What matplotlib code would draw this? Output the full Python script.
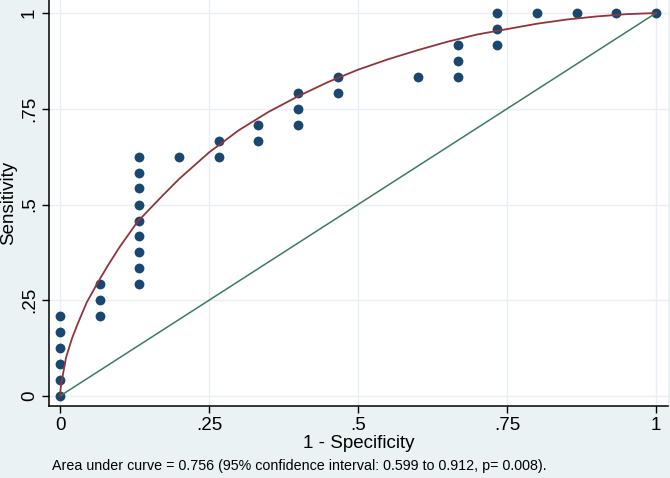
import numpy as np
import matplotlib
matplotlib.use("Agg")
import matplotlib.pyplot as plt

plt.rcParams['font.family'] = ['Liberation Sans', 'DejaVu Sans']

# empirical ROC points (1 - specificity, sensitivity)
fpr_pts = [0, 0, 0, 0, 0, 0,
           0.067, 0.067, 0.067,
           0.133, 0.133, 0.133, 0.133, 0.133, 0.133, 0.133, 0.133, 0.133,
           0.2, 0.267, 0.267, 0.333, 0.333,
           0.4, 0.4, 0.4, 0.467, 0.467,
           0.6, 0.667, 0.667, 0.667,
           0.733, 0.733, 0.733, 0.8, 0.867, 0.933, 1.0]
sens_pts = [0, 0.042, 0.083, 0.125, 0.167, 0.208,
            0.208, 0.25, 0.292,
            0.292, 0.333, 0.375, 0.417, 0.458, 0.5, 0.542, 0.583, 0.625,
            0.625, 0.625, 0.667, 0.667, 0.708,
            0.708, 0.75, 0.792, 0.792, 0.833,
            0.833, 0.833, 0.875, 0.917,
            0.917, 0.958, 1.0, 1.0, 1.0, 1.0, 1.0]

# fitted curve
fit_x = [0, 0.001, 0.003, 0.01, 0.02, 0.03, 0.045, 0.064, 0.08, 0.10, 0.13,
         0.17, 0.2, 0.25, 0.3, 0.35, 0.4, 0.45, 0.5, 0.55, 0.6, 0.65, 0.7,
         0.75, 0.8, 0.85, 0.9, 0.95, 1.0]
fit_y = [0, 0.02, 0.04, 0.10, 0.15, 0.19, 0.245, 0.298, 0.34, 0.389, 0.455,
         0.52, 0.567, 0.636, 0.694, 0.742, 0.783, 0.82, 0.852, 0.879, 0.903,
         0.925, 0.944, 0.958, 0.972, 0.983, 0.991, 0.997, 1.0]

ticks = [0, 0.25, 0.5, 0.75, 1]
tick_labels = ['0', '.25', '.5', '.75', '1']
note = "Area under curve = 0.756 (95% confidence interval: 0.599 to 0.912, p= 0.008)."

bg = '#eaf2f3'
fig = plt.figure(figsize=(6.7, 4.78), dpi=100, facecolor=bg)
ax = fig.add_axes([49/670, 72/478, 619/670, 406/478])
ax.set_facecolor('white')

ax.plot([0, 1], [0, 1], color='#3d7b5e', lw=1.1, zorder=3)
ax.scatter(fpr_pts, sens_pts, s=50, color='#1a476f', zorder=2, linewidths=0)
ax.plot(fit_x, fit_y, color='#90353b', lw=1.3, zorder=4)

ax.set_xlim(-0.0185, 1.0201)
ax.set_ylim(-0.0261, 1.034)
ax.set_xticks(ticks)
ax.set_xticklabels(tick_labels)
ax.set_yticks(ticks)
ax.set_yticklabels(tick_labels, rotation=90, va='center')
ax.grid(True, color='#e6eff1', lw=1.0, zorder=0)
ax.set_axisbelow(True)

for s in ['top', 'right']:
    ax.spines[s].set_visible(False)
for s in ['left', 'bottom']:
    ax.spines[s].set_color('black')
    ax.spines[s].set_linewidth(1.1)
ax.tick_params(length=5, width=1.0, labelsize=13.5, pad=3)

ax.set_xlabel('1 - Specificity', fontsize=13.5, labelpad=1)
ax.set_ylabel('Sensitivity', fontsize=13.5, labelpad=3)

fig.text(52/670, 1 - 466/478, note, fontsize=10.3, ha='left', va='center')

fig.savefig('out.png', dpi=100, facecolor=bg)
